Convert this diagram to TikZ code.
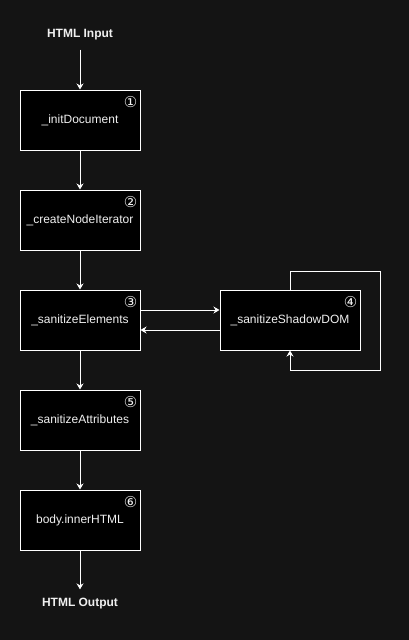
\documentclass[tikz,border=0pt]{standalone}
\usepackage{fontspec}
\setmainfont{Liberation Sans}
\newfontfamily\symfont{DejaVu Sans}
\usetikzlibrary{arrows.meta}
\definecolor{bg}{HTML}{141414}
\definecolor{ink}{HTML}{F0F0F0}
\begin{document}
\begin{tikzpicture}[x=1pt,y=-1pt,
  box/.style={draw=white,fill=black,line width=1pt,minimum width=120pt,minimum height=60pt,text=ink,font=\fontsize{12}{14}\selectfont},
  num/.style={text=ink,inner sep=0pt,font=\symfont\fontsize{15}{16}\selectfont},
  term/.style={text=ink,inner sep=9pt,font=\bfseries\fontsize{12}{14}\selectfont},
  arr/.style={white,line width=1pt,-{Stealth[length=6pt,width=7pt]}}]
  \fill[bg] (0,0) rectangle (409,640);
  \node[term] (input) at (80,35) {HTML Input};
  \node[box] (init) at (80,120) {\_initDocument};
  \node[box] (iter) at (80,220) {\_createNodeIterator};
  \node[box] (elems) at (80,320) {\_sanitizeElements};
  \node[box,minimum width=140pt] (shadow) at (290,320) {\_sanitizeShadowDOM};
  \node[box] (attrs) at (80,420) {\_sanitizeAttributes};
  \node[box] (body) at (80,520) {body.innerHTML};
  \node[term] (output) at (80,604) {HTML Output};
  \node[num] (n1) at ([xshift=-10pt,yshift=-13pt]init.north east) {①};
  \node[num] (n2) at ([xshift=-10pt,yshift=-13pt]iter.north east) {②};
  \node[num] (n3) at ([xshift=-10pt,yshift=-13pt]elems.north east) {③};
  \node[num] (n4) at ([xshift=-10pt,yshift=-13pt]shadow.north east) {④};
  \node[num] (n5) at ([xshift=-10pt,yshift=-13pt]attrs.north east) {⑤};
  \node[num] (n6) at ([xshift=-10pt,yshift=-13pt]body.north east) {⑥};
  \draw[arr] (input) -- (init);
  \draw[arr] (init) -- (iter);
  \draw[arr] (iter) -- (elems);
  \draw[arr] (elems) -- (attrs);
  \draw[arr] (attrs) -- (body);
  \draw[arr] (body) -- (output);
  \draw[arr] ([yshift=10pt]elems.east) -- ([yshift=10pt]shadow.west);
  \draw[arr] ([yshift=-10pt]shadow.west) -- ([yshift=-10pt]elems.east);
  \coordinate (loop) at (380,271);
  \draw[arr] (shadow.north) |- (loop) |- ([yshift=-20pt]shadow.south) -- (shadow.south);
\end{tikzpicture}
\end{document}
